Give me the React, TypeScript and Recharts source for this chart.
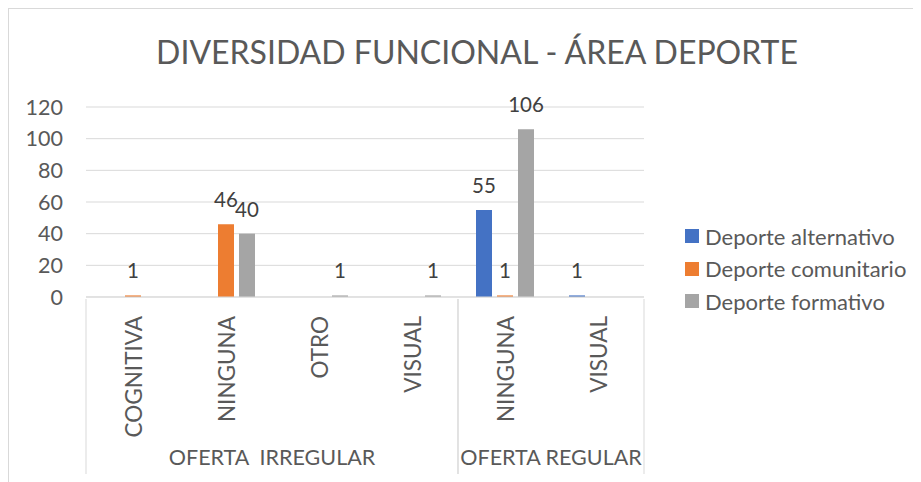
import { BarChart, Bar, XAxis, YAxis, CartesianGrid, Legend, LabelList } from "recharts"

const title = "DIVERSIDAD FUNCIONAL - ÁREA DEPORTE"
const groups = ["OFERTA  IRREGULAR", "OFERTA REGULAR"]
const categories = ["COGNITIVA", "NINGUNA", "OTRO", "VISUAL", "NINGUNA", "VISUAL"]
const categoryGroup = [0, 0, 0, 0, 1, 1]
const alternativo = [null, null, null, null, 55, 1]
const comunitario = [1, 46, null, null, 1, null]
const formativo = [null, 40, 1, 1, 106, null]
const seriesNames = ["Deporte alternativo", "Deporte comunitario", "Deporte formativo"]
const seriesColors = ["#4472C4", "#ED7D31", "#A5A5A5"]
const yTicks = [0, 20, 40, 60, 80, 100, 120]

const data = categories.map((c, i) => ({
  key: `${categoryGroup[i]}-${c}`,
  alternativo: alternativo[i],
  comunitario: comunitario[i],
  formativo: formativo[i],
}))

const FONT = "Lato, 'Open Sans', sans-serif"
const W = 912
const H = 473
const margin = { top: 98, right: 277, bottom: 0, left: 17 }
const yAxisWidth = 60
const bandWidth = (W - margin.left - margin.right - yAxisWidth) / categories.length

const AxisTick = (props: any) => {
  const { x, y, payload } = props
  const i = payload.index
  const g = categoryGroup[i]
  const first = i === 0 || categoryGroup[i - 1] !== g
  const last = i === categories.length - 1 || categoryGroup[i + 1] !== g
  let lastIdx = i
  while (lastIdx + 1 < categories.length && categoryGroup[lastIdx + 1] === g) lastIdx++
  return (
    <g>
      {first && <line x1={x - bandWidth / 2} x2={x - bandWidth / 2} y1={y} y2={y + 175} stroke="#d9d9d9" />}
      {last && <line x1={x + bandWidth / 2} x2={x + bandWidth / 2} y1={y} y2={y + 175} stroke="#d9d9d9" />}
      <text
        transform={`translate(${x + 1},${y + 17}) rotate(-90)`}
        textAnchor="end"
        dy="0.36em"
        fontSize={22.5}
        fill="#595959"
        fontFamily={FONT}
      >
        {categories[i]}
      </text>
      {first && (
        <text
          x={x + ((lastIdx - i) / 2) * bandWidth}
          y={y + 166}
          textAnchor="middle"
          fontSize={21.5}
          fill="#595959"
          fontFamily={FONT}
          style={{ whiteSpace: "pre" }}
        >
          {groups[g]}
        </text>
      )}
    </g>
  )
}

const renderValue = (props: any) => {
  const { x, y, width, value } = props
  if (value == null) return null
  return (
    <text x={x + width / 2} y={y - 17} textAnchor="middle" fontSize={20.5} fill="#404040" fontFamily={FONT}>
      {value}
    </text>
  )
}

const renderLegend = () => (
  <div style={{ fontFamily: FONT, fontSize: 22, color: "#595959" }}>
    {seriesNames.map((n, i) => (
      <div key={n} style={{ height: 32.5, display: "flex", alignItems: "center" }}>
        <span style={{ width: 14, height: 14, background: seriesColors[i], marginRight: 6, display: "inline-block" }} />
        <span>{n}</span>
      </div>
    ))}
  </div>
)

export default function App() {
  return (
    <div
      style={{
        position: "relative",
        width: W,
        height: H,
        borderTop: "1px solid #d9d9d9",
        borderLeft: "1px solid #d9d9d9",
        background: "#fff",
      }}
    >
      <style>{"body{overflow:hidden}"}</style>
      <div
        style={{
          position: "absolute",
          left: 0,
          width: 936,
          top: 24,
          textAlign: "center",
          fontFamily: FONT,
          fontSize: 32,
          color: "#595959",
          lineHeight: "38px",
        }}
      >
        {title}
      </div>
      <BarChart width={W} height={H} data={data} margin={margin} barSize={16} barGap={5}>
        <CartesianGrid vertical={false} stroke="#d9d9d9" />
        <XAxis
          dataKey="key"
          interval={0}
          tickLine={false}
          tickSize={0}
          height={H - margin.top - 190}
          stroke="#d9d9d9"
          tick={<AxisTick />}
        />
        <YAxis
          width={yAxisWidth}
          domain={[0, 120]}
          ticks={yTicks}
          axisLine={false}
          tickLine={false}
          tickSize={0}
          tickMargin={23}
          tick={{ fontSize: 21.5, fill: "#595959", fontFamily: FONT }}
        />
        <Legend
          layout="vertical"
          align="center"
          verticalAlign="middle"
          wrapperStyle={{ left: 676, top: 211, width: 236 }}
          content={renderLegend}
        />
        <Bar dataKey="alternativo" name={seriesNames[0]} fill={seriesColors[0]} isAnimationActive={false}>
          <LabelList dataKey="alternativo" content={renderValue} />
        </Bar>
        <Bar dataKey="comunitario" name={seriesNames[1]} fill={seriesColors[1]} isAnimationActive={false}>
          <LabelList dataKey="comunitario" content={renderValue} />
        </Bar>
        <Bar dataKey="formativo" name={seriesNames[2]} fill={seriesColors[2]} isAnimationActive={false}>
          <LabelList dataKey="formativo" content={renderValue} />
        </Bar>
      </BarChart>
    </div>
  )
}
